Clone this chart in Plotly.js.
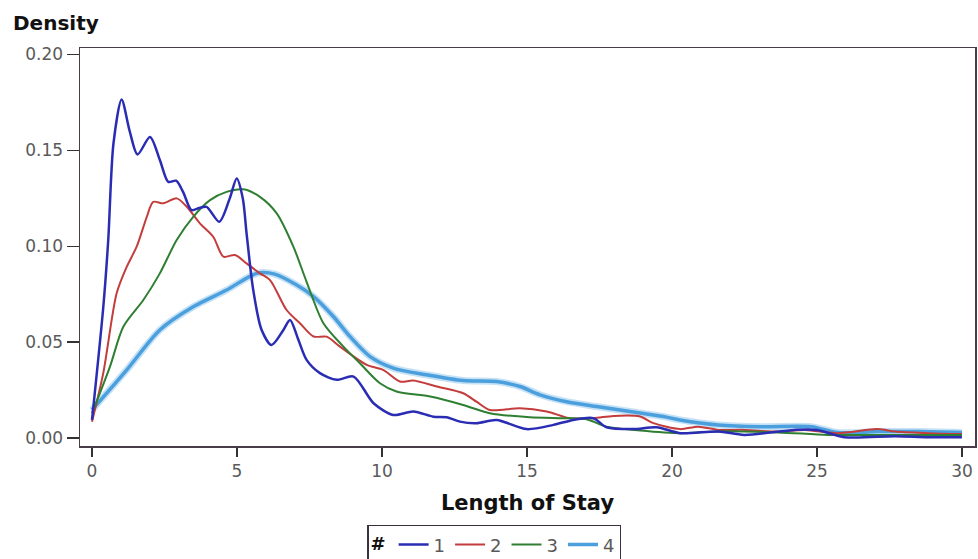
<!DOCTYPE html>
<html>
<head>
<meta charset="utf-8">
<script src="https://cdn.plot.ly/plotly-3.0.1.min.js"></script>
<style>html,body{margin:0;padding:0;background:#fff;}#chart{width:978px;height:559px;}</style>
</head>
<body>
<div id="chart"></div>
<script>
// Group 1 (blue)
const x1 = [0,0.39,0.56,0.74,1.02,1.3,1.57,2.0,2.34,2.63,2.9,3.14,3.43,3.7,3.95,4.39,4.75,4.99,5.2,5.33,5.56,5.85,6.19,6.6,6.83,7.1,7.4,7.86,8.44,9.02,9.71,10.39,11.08,11.77,12.23,12.69,13.26,13.95,14.99,15.91,16.6,17.29,17.74,18.66,19.47,20.28,21.6,22.5,24.23,25.0,25.95,27.7,28.83,30];
const y1 = [0.0095,0.0685,0.1033,0.1536,0.1766,0.16,0.1479,0.157,0.145,0.1336,0.1342,0.1284,0.1189,0.12,0.1206,0.1128,0.125,0.1354,0.125,0.1068,0.0772,0.0564,0.0486,0.0564,0.0616,0.052,0.0408,0.0339,0.0304,0.0321,0.0182,0.0121,0.0139,0.0112,0.0109,0.0086,0.0078,0.0095,0.0047,0.0069,0.0095,0.0104,0.0057,0.0047,0.0057,0.0026,0.0035,0.0017,0.0043,0.0043,0.0005,0.001,0.0005,0.0005];
// Group 2 (red)
const x2 = [0,0.39,0.85,1.2,1.54,1.89,2.11,2.46,2.92,3.27,3.72,4.18,4.53,4.93,5.33,5.79,6.14,6.71,7.17,7.64,8.09,8.55,9.47,10.04,10.62,11.08,11.89,12.8,13.26,13.72,14.76,15.68,16.48,17.29,17.98,18.9,19.36,20.28,20.9,21.6,22.5,23.66,24.58,25.72,27.1,27.7,28.83,30];
const y2 = [0.0086,0.034,0.0755,0.0894,0.0998,0.1154,0.1232,0.1224,0.125,0.1206,0.112,0.105,0.0946,0.0955,0.0911,0.0859,0.0824,0.0668,0.0599,0.053,0.0529,0.0477,0.0382,0.0356,0.0295,0.030,0.0269,0.0234,0.019,0.0147,0.0156,0.0139,0.0104,0.0104,0.0116,0.0113,0.0078,0.0047,0.006,0.0043,0.0043,0.0034,0.0043,0.0026,0.0047,0.0034,0.0026,0.0021];
// Group 3 (green)
const x3 = [0,0.62,1.08,1.77,2.34,2.92,3.49,4.07,4.64,5.22,5.79,6.37,6.94,7.4,7.98,8.67,9.24,9.93,10.5,11.66,12.8,13.72,15.1,16.25,17.05,17.74,18.9,20.28,21.6,23.66,25.38,27.1,30];
const y3 = [0.013,0.0373,0.0581,0.072,0.0859,0.1033,0.1154,0.1241,0.1284,0.1297,0.1258,0.1172,0.1,0.0815,0.0599,0.0477,0.039,0.0286,0.0243,0.0217,0.0173,0.013,0.0109,0.0104,0.0099,0.006,0.004,0.0026,0.0035,0.003,0.0017,0.0017,0.0017];
// Group 4 (light blue)
const x4 = [0,1.2,2.34,3.49,4.64,5.68,6.3,7.06,7.64,8.33,8.9,9.59,10.39,11.54,12.8,13.95,14.76,15.45,16.37,17.4,18.55,19.7,20.28,21.59,23.08,24.8,25.72,27.1,28.48,30];
const y4 = [0.0147,0.0356,0.0564,0.0685,0.0772,0.0859,0.0855,0.0798,0.0738,0.0633,0.0529,0.0425,0.0365,0.033,0.030,0.0295,0.0269,0.0226,0.019,0.0165,0.0139,0.0113,0.0095,0.0069,0.006,0.006,0.0029,0.0034,0.0034,0.0029];

const groupNames = ['1','2','3','4'];
const xTicks = [0,5,10,15,20,25,30];
const yTicks = [0,0.05,0.10,0.15,0.20];

const FONT = 'DejaVu Sans, Verdana, sans-serif';
const sp = {shape:'spline', smoothing:0.8};
const traces = [
  {x:x4, y:y4, mode:'lines', line:Object.assign({color:'rgba(90,170,230,0.35)', width:7}, sp), showlegend:false, hoverinfo:'skip'},
  {x:x4, y:y4, mode:'lines', name:groupNames[3], legendrank:4, line:Object.assign({color:'#4a9fdc', width:3.5}, sp)},
  {x:x2, y:y2, mode:'lines', name:groupNames[1], legendrank:2, line:Object.assign({color:'#c43c3c', width:2}, sp)},
  {x:x3, y:y3, mode:'lines', name:groupNames[2], legendrank:3, line:Object.assign({color:'#2f7f32', width:2}, sp)},
  {x:x1, y:y1, mode:'lines', name:groupNames[0], legendrank:1, line:Object.assign({color:'#2a2db4', width:2.5}, sp)}
];

const axFont = {family:FONT, size:17, color:'#5a5a5a'};
const layout = {
  width:978, height:559,
  margin:{l:80, r:3, t:48, b:113, autoexpand:false},
  paper_bgcolor:'#fff', plot_bgcolor:'#fff',
  showlegend:true,
  legend:{
    orientation:'h', x:0.4626, xanchor:'center', xref:'paper',
    yref:'container', y:0.061, yanchor:'top',
    bordercolor:'#3a3040', borderwidth:1.5, bgcolor:'#fff',
    font:{family:FONT, size:18, color:'#5a5a5a'},
    title:{text:'<b>#</b>', font:{family:FONT, size:18, color:'#111'}},
    traceorder:'normal', itemwidth:30
  },
  xaxis:{
    range:[-0.414, 30.45], tickvals:xTicks, ticktext:xTicks.map(String),
    ticks:'outside', ticklen:9, tickwidth:1.5, tickcolor:'#333', tickfont:axFont, ticklabelstandoff:0,
    showgrid:false, zeroline:false, showline:true, linecolor:'#4a3d4a', linewidth:1.5, mirror:true,
    title:{text:'<b>Length of Stay</b>', font:{family:FONT, size:21, color:'#111'}, standoff:15}
  },
  yaxis:{
    range:[-0.0041, 0.2034], tickvals:yTicks, ticktext:yTicks.map(v=>v.toFixed(2)),
    ticks:'outside', ticklen:12, tickwidth:1.5, tickcolor:'#333', tickfont:axFont,
    showgrid:false, zeroline:false, showline:true, linecolor:'#4a3d4a', linewidth:1.5, mirror:true
  },
  annotations:[{
    text:'<b>Density</b>', xref:'paper', yref:'paper', x:-0.077, y:1.027, xanchor:'left', yanchor:'bottom',
    showarrow:false, font:{family:FONT, size:20, color:'#111'}
  }]
};
Plotly.newPlot('chart', traces, layout, {displayModeBar:false, staticPlot:true});
</script>
</body>
</html>
